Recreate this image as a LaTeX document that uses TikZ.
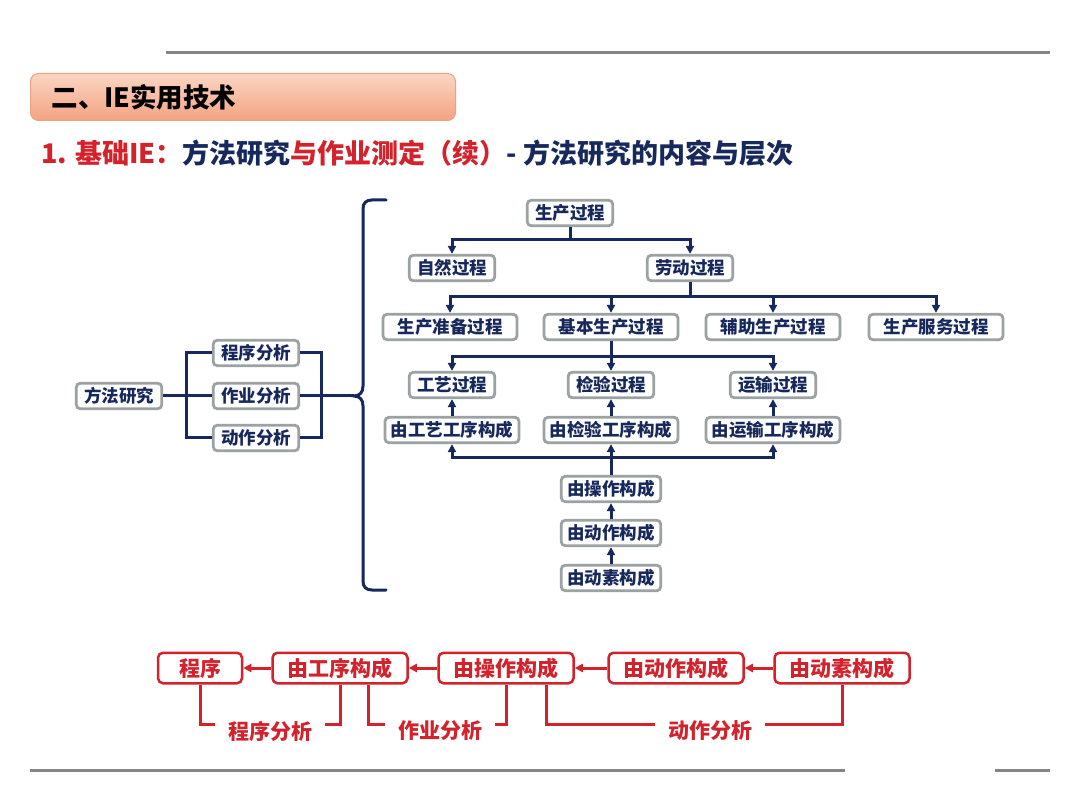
\documentclass[tikz,border=0pt]{standalone}
\usepackage{fontspec}
\setmainfont{Noto Sans CJK SC}[BoldFont=* Black]
\usetikzlibrary{
  arrows.meta,
  positioning
}
\definecolor{navy}{HTML}{17295C}
\definecolor{boxgray}{HTML}{9CA2A3}
\definecolor{brick}{HTML}{D3222B}
\definecolor{rulegray}{HTML}{858585}
\definecolor{peachtop}{HTML}{FBD6C3}
\definecolor{peachbot}{HTML}{F3A281}
\definecolor{peachedge}{HTML}{E9A284}
\tikzset{
  % For the grey rules at top and bottom.
  rule/.style={
    line width=3pt,
    draw=rulegray},
%
  % For the section heading.
  heading box/.style={
    anchor=west,
    draw=peachedge,
    line width=1pt,
    top color=peachtop,
    bottom color=peachbot,
    rounded corners=8pt,
    minimum height=47pt,
    inner xsep=21pt,
    text width=383pt,
    align=left,
    font=\bfseries\fontsize{26.5}{30}\selectfont},
%
  % For the subtitle line.
  subtitle/.style={
    anchor=west,
    inner sep=0pt,
    font=\bfseries\fontsize{27}{30}\selectfont},
%
  % For the boxes of the tree.
  tree box/.style={
    draw=boxgray,
    line width=2.8pt,
    fill=white,
    rounded corners=4pt,
    text=navy,
    minimum height=25.5pt,
    inner xsep=5pt,
    inner ysep=0pt,
    font=\bfseries\fontsize{17.5}{20}\selectfont},
  w4/.style={minimum width=85.5pt},
  w5/.style={minimum width=99.5pt},
  w6/.style={minimum width=134pt},
%
  % For plain tree connectors.
  tree line/.style={
    draw=navy,
    line width=3pt},
%
  % For tree connectors with one arrow.
  tree arrow/.style={
    tree line,
    -{Triangle[length=8pt,width=8pt]}},
%
  % For the curly bracket.
  brace line/.style={
    draw=navy,
    line width=3pt,
    line cap=round},
%
  % For the red chain at the bottom.
  red box/.style={
    draw=brick,
    line width=2.5pt,
    fill=white,
    rounded corners=5pt,
    text=brick,
    minimum height=30.5pt,
    inner xsep=5pt,
    inner ysep=0pt,
    font=\bfseries\fontsize{21}{24}\selectfont},
  red line/.style={
    draw=brick,
    line width=3pt},
  red arrow/.style={
    red line,
    -{Triangle[length=8pt,width=8pt]}},
  red label/.style={
    text=brick,
    inner xsep=13pt,
    inner ysep=0pt,
    font=\bfseries\fontsize{21}{24}\selectfont}
}

\begin{document}
\begin{tikzpicture}[x=1pt, y=-1pt]
  \useasboundingbox[fill=white] (0,0) rectangle (1080,810);

  % Rules.
  \draw[rule] (166,53) -- (1050,53);
  \draw[rule] (30,770) -- (845,770);
  \draw[rule] (995,770) -- (1050,770);

  % Heading and subtitle.
  \node[heading box] (head) at (30,97) {二、IE实用技术};
  \node[subtitle] (sub) at (41,153)
    {{\color{brick}1. 基础IE：}{\color{navy}方法研究}{\color{brick}与作业测定（续）}{\color{navy} - 方法研究的内容与层次}};

  % Left part: method study and its three analyses.
  \node[tree box, w4] (method) at (119,396) {方法研究};
  \node[tree box, w4] (procana) at (256,353) {程序分析};
  \node[tree box, w4] (operana) at (256,396) {作业分析};
  \node[tree box, w4] (motiana) at (256,438) {动作分析};

  \draw[tree line] (method) -- (operana);
  \draw[tree line] (procana.west) -- ++(-25,0) |- (motiana.west);
  \draw[tree line] (procana.east) -- ++(21,0) |- (motiana.east);

  \coordinate (tip) at (354,396);
  \draw[tree line] (operana) -- (tip);
  \draw[brace line] (386,200) -- (372,200)
    .. controls (366,200) and (363,203) .. (363,209) -- (363,386)
    .. controls (363,392) and (360,396) .. (tip)
    .. controls (360,396) and (363,400) .. (363,406) -- (363,581)
    .. controls (363,587) and (366,590) .. (372,590) -- (386,590);

  % Right part: the production process tree.
  \node[tree box, w4] (prod) at (570,213) {生产过程};
  \node[tree box, w4] (natural) at (452,268) {自然过程};
  \node[tree box, w4] (labour) at (690,268) {劳动过程};

  \foreach \name/\x/\txt in {prep/450/生产准备过程, basic/611/基本生产过程,
                             aux/773/辅助生产过程, serv/936/生产服务过程}
    \node[tree box, w6] (\name) at (\x,327) {\txt};
  \foreach \name/\x/\txt in {tech/452/工艺过程, insp/611/检验过程, trans/773/运输过程}
    \node[tree box, w4] (\name) at (\x,385) {\txt};
  \foreach \name/\x/\txt in {techop/452/由工艺工序构成, inspop/611/由检验工序构成,
                             transop/773/由运输工序构成}
    \node[tree box, w6] (\name) at (\x,430) {\txt};

  \node[tree box, w5] (oper) at (611,489) {由操作构成};
  \node[tree box, w5] (motion) at (611,533) {由动作构成};
  \node[tree box, w5] (therblig) at (611,578) {由动素构成};

  \coordinate (fork1) at (570,240);
  \draw[tree line] (prod) -- (fork1);
  \foreach \n in {natural, labour}
    \draw[tree arrow] (fork1) -| (\n);

  \coordinate (fork2) at (690,297);
  \draw[tree line] (labour) -- (fork2);
  \foreach \n in {prep, basic, aux, serv}
    \draw[tree arrow] (fork2) -| (\n);

  \coordinate (fork3) at (611,357);
  \draw[tree line] (basic) -- (fork3);
  \foreach \n in {tech, insp, trans}
    \draw[tree arrow] (fork3) -| (\n);

  \foreach \a/\b in {techop/tech, inspop/insp, transop/trans}
    \draw[tree arrow] (\a) -- (\b);

  \coordinate (fork4) at (611,458);
  \draw[tree line] (oper) -- (fork4);
  \foreach \n in {techop, inspop, transop}
    \draw[tree arrow] (fork4) -| (\n);

  \draw[tree arrow] (motion) -- (oper);
  \draw[tree arrow] (therblig) -- (motion);

  % Bottom: the red chain.
  \foreach \name/\x/\w/\txt in {rprog/200/84/程序, rstep/340/135/由工序构成,
                                roper/506/135/由操作构成, rmotion/676/135/由动作构成,
                                rtherb/842/135/由动素构成}
    \node[red box, minimum width=\w pt] (\name) at (\x,668) {\txt};

  \foreach \a/\b in {rstep/rprog, roper/rstep, rmotion/roper, rtherb/rmotion}
    \draw[red arrow] (\a) -- (\b);

  \node[red label] (lprog) at (270,731) {程序分析};
  \node[red label] (loper) at (440,731) {作业分析};
  \node[red label] (lmotion) at (710,731) {动作分析};

  \draw[red line] (rprog) |- ([yshift=7pt]lprog.west);
  \draw[red line] (rstep) |- ([yshift=7pt]lprog.east);
  \draw[red line] ([xshift=28pt]rstep.south) |- ([yshift=7pt]loper.west);
  \draw[red line] (roper) |- ([yshift=7pt]loper.east);
  \draw[red line] ([xshift=40pt]roper.south) |- ([yshift=7pt]lmotion.west);
  \draw[red line] (rtherb) |- ([yshift=7pt]lmotion.east);
\end{tikzpicture}
\end{document}
